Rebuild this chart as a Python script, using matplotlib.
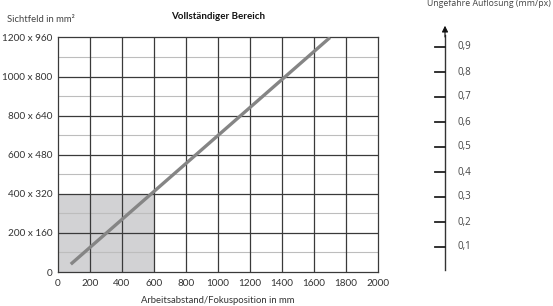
import matplotlib
matplotlib.use("Agg")
import matplotlib.pyplot as plt

plt.rcParams['font.family'] = ['Lato', 'DejaVu Sans']

# Data
x_ticks = [0, 200, 400, 600, 800, 1000, 1200, 1400, 1600, 1800, 2000]
y_ticks = [0, 200, 400, 600, 800, 1000, 1200]
y_tick_labels = ["0", "200 x 160", "400 x 320", "600 x 480", "800 x 640", "1000 x 800", "1200 x 960"]
y_minor = [100, 300, 500, 700, 900, 1100]
line_x = [80, 1700]
line_y = [40, 1200]
shade_x = [0, 600]
shade_y = [0, 400]
res_values = [0.1, 0.2, 0.3, 0.4, 0.5, 0.6, 0.7, 0.8, 0.9]
res_labels = ["0,1", "0,2", "0,3", "0,4", "0,5", "0,6", "0,7", "0,8", "0,9"]

W, H = 553, 306
fig = plt.figure(figsize=(W / 100, H / 100), dpi=100)

def px_rect(l, t, r, b):
    return [l / W, 1 - b / H, (r - l) / W, (b - t) / H]

ax = fig.add_axes(px_rect(58, 37.5, 378, 272))
ax.set_xlim(0, 2000)
ax.set_ylim(0, 1200)

ax.fill_between(shade_x, shade_y[0], shade_y[1], color='#d2d2d4', lw=0, zorder=0)
for v in y_minor:
    ax.axhline(v, color='#bdbdbd', lw=0.8, zorder=1)
for v in y_ticks[1:-1]:
    ax.axhline(v, color='#3a3a3a', lw=0.9, zorder=2)
for v in x_ticks[1:-1]:
    ax.axvline(v, color='#3a3a3a', lw=0.9, zorder=2)
ax.plot(line_x, line_y, color='#858585', lw=2.4, solid_capstyle='butt', zorder=3)

for s in ax.spines.values():
    s.set_color('#3a3a3a')
    s.set_linewidth(0.9)

ax.set_xticks(x_ticks)
ax.set_xticklabels([str(v) for v in x_ticks])
ax.set_yticks(y_ticks)
ax.set_yticklabels(y_tick_labels)
ax.tick_params(length=0, labelsize=7.2, colors='#333333', pad=4)
ax.tick_params(axis='x', pad=5)

ax.set_title("Vollständiger Bereich", fontsize=7, fontweight='bold', pad=13, color='#111111')
ax.set_xlabel("Arbeitsabstand/Fokusposition in mm", fontsize=6.8, color='#333333', labelpad=6)
fig.text(7 / W, 1 - 20 / H, "Sichtfeld in mm²", fontsize=6.8, color='#444444', va='center', ha='left')

# Resolution axis
ax2 = fig.add_axes(px_rect(420, 22, 500, 272))
ax2.set_xlim(420, 500)
ax2.set_ylim(0, 1)
ax2.axis('off')
ax_x = 445
ax2.plot([ax_x, ax_x], [0.008, 0.95], color='#333333', lw=1.0)
ax2.annotate('', xy=(ax_x, 0.985), xytext=(ax_x, 0.94),
             arrowprops=dict(arrowstyle='-|>', color='#111111', lw=0.8,
                             mutation_scale=9, shrinkA=0, shrinkB=0))
for v, lab in zip(res_values, res_labels):
    ax2.plot([ax_x - 10, ax_x], [v, v], color='#222222', lw=1.3)
    ax2.text(ax_x + 13, v, lab, fontsize=7, color='#444444', va='center', ha='left',
             family=['Open Sans', 'DejaVu Sans'])

fig.text(489 / W, 1 - 3 / H, "Ungefähre Auflösung (mm/px)", fontsize=6.3, color='#444444',
         ha='center', va='center', family=['Open Sans', 'DejaVu Sans'])

fig.savefig("out.png", dpi=100)
